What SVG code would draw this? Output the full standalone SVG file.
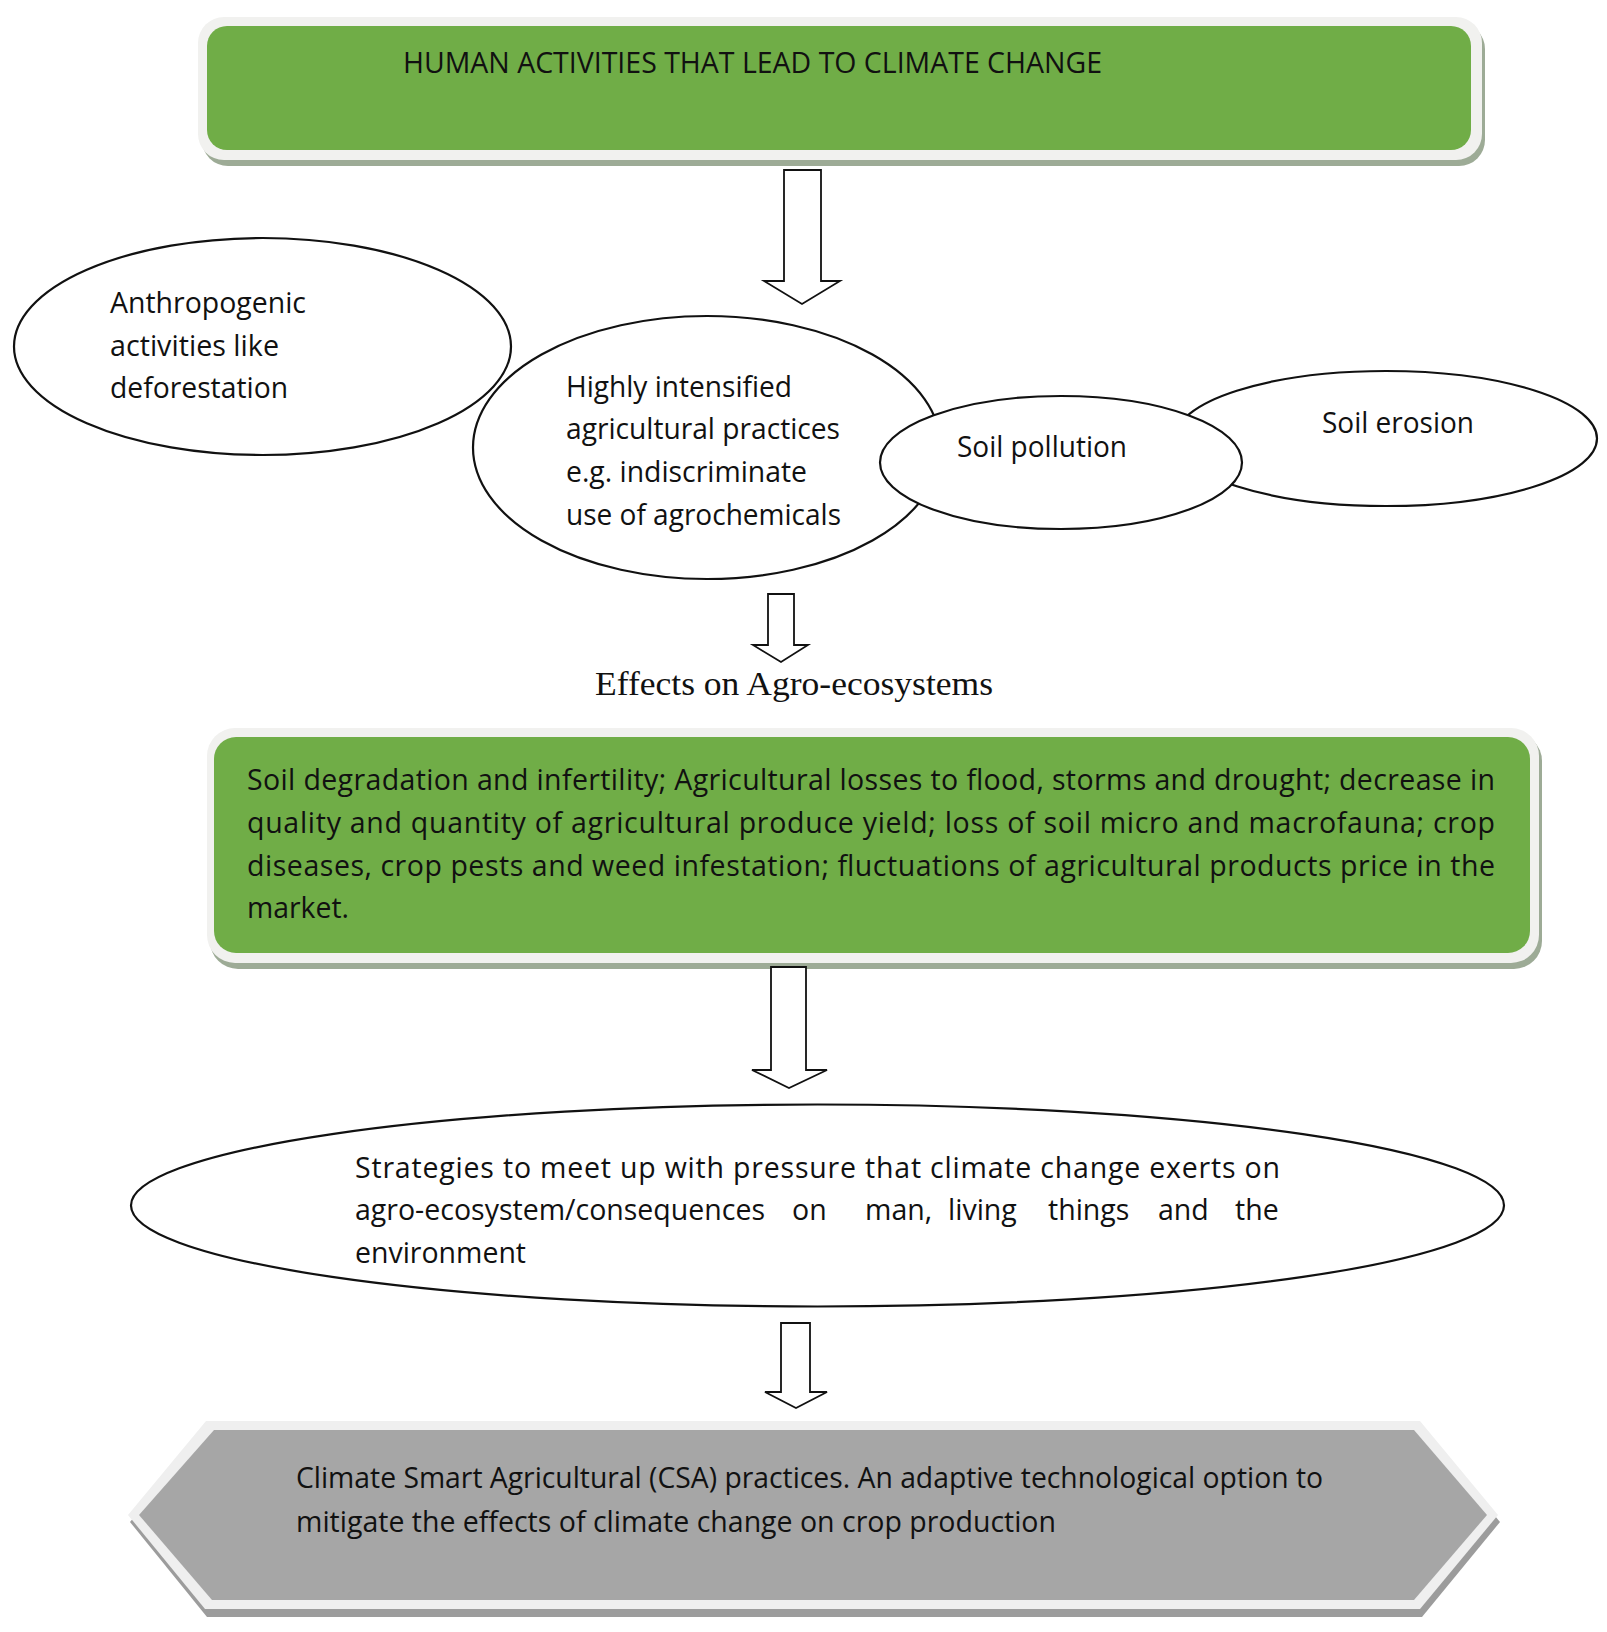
<svg xmlns="http://www.w3.org/2000/svg" width="1607" height="1632" viewBox="0 0 1607 1632">
<style>
.t{font-family:"Open Sans","Liberation Sans",sans-serif;font-size:28.5px;fill:#111}
.serif{font-family:"Liberation Serif","Times New Roman",serif;font-size:33px;fill:#111}
.ell{fill:#fff;stroke:#111;stroke-width:2.2}
.arrow{fill:#fff;stroke:#111;stroke-width:1.8;stroke-linejoin:miter}
.green{fill:#70ad47}
.lite{fill:#f1f1ef}
.gshadow{fill:#9dab96}
</style>
<rect width="1607" height="1632" fill="#fff"/>

<g id="node-human-activities">
  <rect class="gshadow" x="202" y="23" width="1283" height="143" rx="26"/>
  <rect class="lite" x="198" y="17" width="1284" height="143" rx="26"/>
  <rect class="green" x="207" y="26" width="1264" height="124" rx="20"/>
  <text class="t" x="403" y="73" textLength="699" lengthAdjust="spacingAndGlyphs">HUMAN ACTIVITIES THAT LEAD TO CLIMATE CHANGE</text>
</g>

<g id="node-anthropogenic">
  <ellipse class="ell" cx="262.5" cy="346.5" rx="248.5" ry="108.5"/>
  <text class="t" x="110" y="313" textLength="196" lengthAdjust="spacingAndGlyphs">Anthropogenic</text>
  <text class="t" x="110" y="356" textLength="169" lengthAdjust="spacingAndGlyphs">activities like</text>
  <text class="t" x="110" y="398" textLength="178" lengthAdjust="spacingAndGlyphs">deforestation</text>
</g>

<g id="node-intensified">
  <ellipse class="ell" cx="707" cy="447.5" rx="234" ry="131.5"/>
  <text class="t" x="566" y="397" textLength="226" lengthAdjust="spacingAndGlyphs">Highly intensified</text>
  <text class="t" x="566" y="439" textLength="274" lengthAdjust="spacingAndGlyphs">agricultural practices</text>
  <text class="t" x="566" y="482" textLength="241" lengthAdjust="spacingAndGlyphs">e.g. indiscriminate</text>
  <text class="t" x="566" y="525" textLength="275" lengthAdjust="spacingAndGlyphs">use of agrochemicals</text>
</g>

<g id="node-soil-erosion">
  <ellipse class="ell" cx="1386" cy="438.5" rx="211" ry="67.5"/>
  <text class="t" x="1322" y="433" textLength="152" lengthAdjust="spacingAndGlyphs">Soil erosion</text>
</g>

<g id="node-soil-pollution">
  <ellipse class="ell" cx="1061" cy="462.5" rx="181" ry="66.5"/>
  <text class="t" x="957" y="457" textLength="170" lengthAdjust="spacingAndGlyphs">Soil pollution</text>
</g>

<g id="label-effects">
  <text class="serif" x="595" y="695" textLength="398" lengthAdjust="spacingAndGlyphs">Effects on Agro-ecosystems</text>
</g>

<g id="node-effects-box">
  <rect class="gshadow" x="210" y="733" width="1332" height="236" rx="28"/>
  <rect class="lite" x="207" y="728" width="1332" height="235" rx="28"/>
  <rect class="green" x="214" y="737" width="1316" height="216" rx="22"/>
  <text class="t" x="247" y="790" textLength="1248" lengthAdjust="spacing">Soil degradation and infertility; Agricultural losses to flood, storms and drought; decrease in</text>
  <text class="t" x="247" y="833" textLength="1248" lengthAdjust="spacing">quality and quantity of agricultural produce yield; loss of soil micro and macrofauna; crop</text>
  <text class="t" x="247" y="876" textLength="1248" lengthAdjust="spacing">diseases, crop pests and weed infestation; fluctuations of agricultural products price in the</text>
  <text class="t" x="247" y="918" textLength="102" lengthAdjust="spacingAndGlyphs">market.</text>
</g>

<g id="node-strategies">
  <ellipse class="ell" cx="817.5" cy="1205.5" rx="686.5" ry="101"/>
  <text class="t" x="355" y="1178" textLength="925" lengthAdjust="spacing">Strategies to meet up with pressure that climate change exerts on</text>
  <text class="t" y="1220"><tspan x="355">agro-ecosystem/consequences</tspan><tspan x="792">on</tspan><tspan x="865">man,</tspan><tspan x="948">living</tspan><tspan x="1048">things</tspan><tspan x="1158">and</tspan><tspan x="1235">the</tspan></text>
  <text class="t" x="355" y="1263" textLength="171" lengthAdjust="spacingAndGlyphs">environment</text>
</g>

<g id="node-csa">
  <polygon fill="#9c9c9c" points="208,1428 1422,1428 1500,1522 1422,1617 207,1617 130,1522"/>
  <polygon fill="#efefef" points="206,1421 1420,1421 1498,1515 1420,1609 205,1609 128,1515"/>
  <polygon fill="#a6a6a6" points="214,1430 1414,1430 1487,1515 1414,1600 212,1600 139,1515"/>
  <text class="t" x="296" y="1488" textLength="1027" lengthAdjust="spacingAndGlyphs">Climate Smart Agricultural (CSA) practices. An adaptive technological option to</text>
  <text class="t" x="296" y="1532" textLength="760" lengthAdjust="spacingAndGlyphs">mitigate the effects of climate change on crop production</text>
</g>

<g id="connectors">
  <path class="arrow" d="M784,170 H821 V281 H840 L802,304 L764,281 H784 Z"/>
  <path class="arrow" d="M768,594 H794 V645 H808 L781,662 L753,645 H768 Z"/>
  <path class="arrow" d="M771,967 H806 V1070 H827 L789,1088 L752,1070 H771 Z"/>
  <path class="arrow" d="M781,1323 H810 V1392 H827 L796,1408 L765,1392 H781 Z"/>
</g>
</svg>
